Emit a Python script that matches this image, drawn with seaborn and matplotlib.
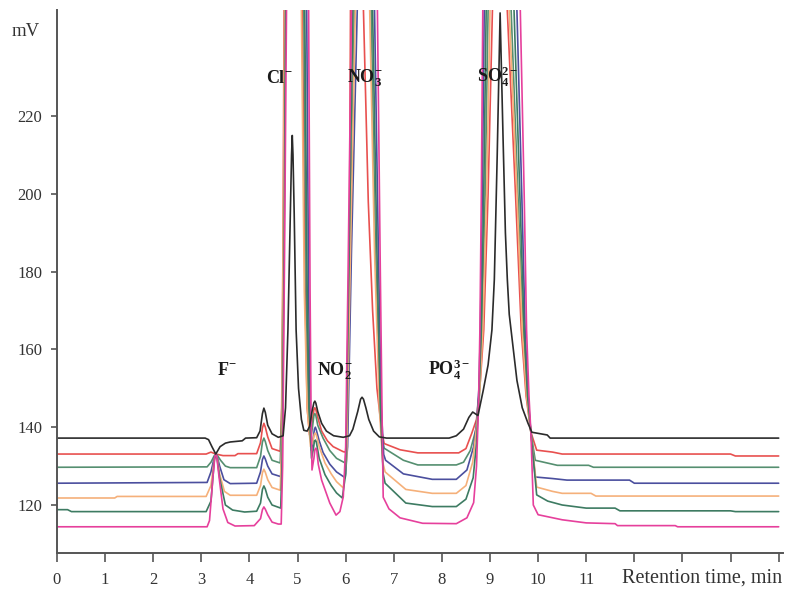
import matplotlib
matplotlib.use("Agg")
import matplotlib.pyplot as plt
import seaborn as sns
import pandas as pd

# ---------------- data ----------------
# time (min) / signal (mV) for each of the seven overlaid runs
black_t = [0, 3.08, 3.15, 3.22, 3.3, 3.39, 3.5, 3.6, 3.85, 3.92, 4.15, 4.22, 4.27, 4.3, 4.33, 4.38,
           4.47, 4.6, 4.7, 4.75, 4.8, 4.85, 4.875, 4.89, 4.905, 4.93, 4.97, 5.02, 5.08, 5.13, 5.2,
           5.25, 5.3, 5.34, 5.36, 5.38, 5.42, 5.5, 5.6, 5.75, 5.95, 6.08, 6.15, 6.25, 6.31, 6.34,
           6.37, 6.42, 6.48, 6.58, 6.7, 6.85, 8.15, 8.3, 8.45, 8.56, 8.64, 8.75, 8.86, 8.96, 9.04,
           9.09, 9.15, 9.21, 9.27, 9.32, 9.36, 9.4, 9.48, 9.56, 9.67, 9.79, 9.87, 10.19, 10.25, 15]
black_v = [137.2, 137.2, 136.8, 135.0, 133.1, 135.0, 135.9, 136.2, 136.5, 137.2, 137.3, 139.0, 143.5,
           144.9, 143.8, 140.5, 138.3, 137.4, 137.8, 145, 165, 195, 210, 215, 210, 195, 165, 150,
           142, 139.2, 139.0, 140.2, 144, 146.3, 146.7, 146.2, 144, 141, 139, 137.8, 137.4, 137.8,
           139.5, 144, 147.2, 147.7, 147.2, 145, 142, 139, 137.5, 137.2, 137.2, 137.8, 139.5, 142.5,
           143.9, 143.0, 149.5, 156, 165, 178, 210, 246.5, 215, 190, 178, 169, 160.5, 152, 145,
           141, 138.7, 138.0, 137.2, 137.2]

red_t = [0, 3.1, 3.2, 3.3, 3.45, 3.7, 3.76, 4.15, 4.23, 4.27, 4.3, 4.33, 4.38, 4.47, 4.64, 4.67,
         4.7, 4.72, 4.91, 5.1, 5.15, 5.2, 5.25, 5.3, 5.34, 5.36, 5.38, 5.42, 5.5, 5.62, 5.74, 5.95,
         6.0, 6.04, 6.08, 6.1, 6.24, 6.37, 6.47, 6.56, 6.65, 6.75, 6.8, 7.13, 7.5, 8.35, 8.5, 8.62,
         8.72, 8.8, 8.87, 8.96, 9.05, 9.2, 9.36, 9.53, 9.65, 9.75, 9.85, 9.97, 10.3, 10.5, 14.0,
         14.1, 15]
red_v = [133.1, 133.1, 133.6, 133.1, 132.7, 132.7, 133.2, 133.2, 136, 139.8, 141, 140, 137.5, 134.5,
         133.8, 145, 190, 247, 340, 247, 180, 145, 138, 141, 144.5, 145, 144.5, 142.5, 139, 136.5,
         135, 133.7, 133.6, 145, 190, 247, 330, 247, 198, 170, 150, 139, 135.8, 134.2, 133.4,
         133.4, 134.5, 138.4, 142, 152, 165, 200, 247, 320, 247, 200, 165, 148, 138.7, 134.1,
         133.6, 133.1, 133.1, 132.6, 132.6]

green_t = [0, 3.12, 3.2, 3.27, 3.3, 3.33, 3.4, 3.5, 3.6, 4.15, 4.23, 4.27, 4.3, 4.33, 4.38, 4.47,
           4.64, 4.67, 4.71, 4.74, 4.93, 5.13, 5.18, 5.22, 5.27, 5.31, 5.34, 5.36, 5.38, 5.42, 5.53,
           5.67, 5.81, 5.99, 6.03, 6.1, 6.18, 6.36, 6.53, 6.62, 6.7, 6.76, 6.8, 7.2, 7.5, 8.3, 8.45,
           8.59, 8.72, 8.78, 8.83, 8.9, 8.96, 9.2, 9.44, 9.58, 9.69, 9.77, 9.85, 9.94, 10.4, 11.05,
           11.15, 15]
green_v = [129.7, 129.8, 131, 132.7, 133.1, 132.8, 131.5, 130, 129.6, 129.6, 132.5, 136.2, 137.2,
           136.3, 134, 131.5, 130.8, 142, 190, 247, 340, 247, 175, 148, 137, 140, 143, 143.5, 143,
           140.5, 137.2, 134, 132, 130.8, 137, 185, 247, 330, 247, 185, 150, 137, 134.6, 131.5,
           130.3, 130.3, 131, 134, 140, 148, 165, 200, 247, 320, 247, 200, 165, 148, 138.7, 131.5,
           130.2, 130.2, 129.7, 129.7]

blue_t = [0, 3.12, 3.2, 3.27, 3.3, 3.33, 3.38, 3.47, 3.6, 4.15, 4.23, 4.27, 4.3, 4.33, 4.38, 4.47,
          4.65, 4.68, 4.72, 4.75, 4.97, 5.19, 5.23, 5.26, 5.29, 5.33, 5.35, 5.37, 5.39, 5.45, 5.53,
          5.67, 5.81, 5.99, 6.04, 6.12, 6.24, 6.42, 6.6, 6.68, 6.74, 6.79, 6.83, 7.2, 7.8, 8.3,
          8.52, 8.66, 8.72, 8.77, 8.8, 8.84, 8.88, 9.22, 9.56, 9.66, 9.73, 9.79, 9.85, 9.94, 10.3,
          10.6, 11.9, 12.0, 15]
blue_v = [125.6, 125.8, 128.5, 132.3, 133.1, 132.5, 130, 126.5, 125.5, 125.6, 128.5, 131.7, 132.6,
          131.8, 130, 128, 127.3, 140, 190, 247, 340, 247, 175, 145, 134, 137.5, 139.5, 140, 139.3,
          136.5, 133.5, 130.5, 128.5, 127, 135, 185, 247, 330, 247, 185, 145, 133, 131.5, 128,
          126.6, 126.6, 129, 135, 141, 150, 165, 200, 247, 320, 247, 200, 165, 148, 138.7, 127.2,
          126.8, 126.4, 126.4, 125.6, 125.6]

orange_t = [0, 1.2, 1.25, 3.1, 3.2, 3.27, 3.3, 3.33, 3.38, 3.48, 3.6, 4.15, 4.23, 4.27, 4.3, 4.33,
            4.38, 4.47, 4.64, 4.67, 4.7, 4.73, 4.9, 5.08, 5.14, 5.2, 5.27, 5.31, 5.35, 5.37, 5.39,
            5.45, 5.57, 5.7, 5.81, 5.95, 6.02, 6.1, 6.2, 6.35, 6.5, 6.6, 6.7, 6.77, 6.82, 7.25, 7.8,
            8.3, 8.5, 8.64, 8.72, 8.79, 8.85, 8.93, 9.0, 9.2, 9.4, 9.56, 9.67, 9.76, 9.85, 9.97,
            10.3, 10.5, 11.1, 11.2, 15]
orange_v = [121.8, 121.8, 122.2, 122.2, 125, 131.8, 133.1, 132.2, 128, 123.5, 122.5, 122.5, 125,
            128.3, 129.2, 128.4, 126.5, 124.5, 123.8, 136, 185, 247, 340, 247, 175, 145, 135, 136,
            138.2, 138.5, 138, 135, 130.8, 128, 126, 124.4, 132, 185, 247, 330, 247, 185, 145, 131,
            128.5, 124, 123, 123, 125, 131, 140, 150, 165, 200, 247, 320, 247, 200, 165, 148,
            138.7, 124.6, 123.5, 123, 123, 122.3, 122.3]

dkgreen_t = [0, 0.22, 0.3, 3.1, 3.2, 3.27, 3.3, 3.33, 3.38, 3.5, 3.65, 3.9, 4.15, 4.23, 4.27, 4.3,
             4.33, 4.38, 4.47, 4.65, 4.68, 4.72, 4.75, 4.95, 5.15, 5.2, 5.24, 5.29, 5.33, 5.35,
             5.37, 5.39, 5.45, 5.57, 5.7, 5.81, 5.93, 6.0, 6.06, 6.15, 6.35, 6.56, 6.65, 6.72, 6.78,
             6.82, 7.25, 7.8, 8.3, 8.5, 8.65, 8.72, 8.77, 8.82, 8.87, 8.92, 9.2, 9.5, 9.62, 9.71,
             9.78, 9.85, 9.97, 10.2, 10.5, 11.0, 11.6, 11.7, 14.0, 14.1, 15]
dkgreen_v = [118.8, 118.8, 118.3, 118.3, 121, 131.5, 133.1, 131.8, 127, 120, 118.7, 118.2, 118.4,
             120.5, 124, 124.9, 124.1, 122, 120, 119.2, 132, 185, 247, 340, 247, 175, 145, 132,
             134.5, 136.4, 136.7, 136.2, 132, 127.8, 125, 123.1, 121.8, 128, 175, 247, 330, 247,
             185, 145, 128, 125.6, 120.5, 119.6, 119.6, 121.5, 127, 136, 148, 165, 200, 247, 320,
             247, 200, 165, 148, 138.7, 122.6, 121, 120, 119.2, 119.2, 118.5, 118.5, 118.3, 118.3]

magenta_t = [0, 3.12, 3.17, 3.24, 3.28, 3.3, 3.32, 3.37, 3.45, 3.55, 3.7, 4.1, 4.23, 4.27, 4.3,
             4.33, 4.38, 4.47, 4.6, 4.66, 4.69, 4.73, 4.77, 5.0, 5.23, 5.26, 5.28, 5.3, 5.34, 5.36,
             5.38, 5.4, 5.43, 5.5, 5.67, 5.8, 5.88, 5.95, 6.0, 6.05, 6.12, 6.39, 6.66, 6.72, 6.76,
             6.78, 6.9, 7.13, 7.6, 8.3, 8.52, 8.66, 8.72, 8.76, 8.79, 8.82, 8.85, 9.24, 9.63, 9.71,
             9.76, 9.81, 9.85, 9.9, 10.0, 10.5, 11.0, 11.6, 11.65, 12.85, 12.9, 15]
magenta_v = [114.4, 114.4, 116, 127, 132.3, 133.1, 132.5, 127, 119, 115.5, 114.6, 114.7, 116.5,
             118.8, 119.5, 118.9, 117.5, 115.6, 115.1, 115.1, 130, 185, 247, 340, 247, 175, 145,
             129, 132, 134.2, 134.6, 134, 130.5, 126.4, 120.5, 117.4, 118.3, 122.1, 135, 180, 247,
             330, 247, 180, 140, 122, 119, 116.7, 115.3, 115.2, 116.7, 120.6, 130, 145, 165, 200,
             247, 320, 247, 200, 165, 148, 138.7, 120, 117.5, 116.2, 115.4, 115.2, 114.7, 114.7,
             114.4, 114.4]

runs = ["red", "green", "blue", "orange", "dkgreen", "magenta", "black"]
run_colors = {"red": "#e8504f", "green": "#558f70", "blue": "#4b4f9e", "orange": "#f5b07a",
              "dkgreen": "#3d7b62", "magenta": "#e6409c", "black": "#2b2b2b"}

ion_labels = [r"$\mathbf{F^{-}}$", r"$\mathbf{Cl^{-}}$", r"$\mathbf{NO_2^{-}}$",
              r"$\mathbf{NO_3^{-}}$", r"$\mathbf{PO_4^{3-}}$", r"$\mathbf{SO_4^{2-}}$"]
ion_x = [3.53, 4.62, 5.78, 6.40, 8.15, 9.15]
ion_y = [153.4, 228.5, 153.4, 228.5, 153.4, 228.5]

y_ticks = [120, 140, 160, 180, 200, 220]
x_ticks = list(range(0, 16))
x_tick_labels = [str(i) if i <= 11 else "" for i in x_ticks]

# ---------------- build frame ----------------
series = {"black": (black_t, black_v), "red": (red_t, red_v), "green": (green_t, green_v),
          "blue": (blue_t, blue_v), "orange": (orange_t, orange_v),
          "dkgreen": (dkgreen_t, dkgreen_v), "magenta": (magenta_t, magenta_v)}
frames = []
for name in runs:
    t, v = series[name]
    frames.append(pd.DataFrame({"time": t, "mV": v, "run": name}))
df = pd.concat(frames, ignore_index=True)

# ---------------- style ----------------
sns.set_style("ticks")
plt.rcParams["font.family"] = ["Liberation Serif", "DejaVu Serif"]
plt.rcParams["mathtext.fontset"] = "custom"
plt.rcParams["mathtext.rm"] = "Liberation Serif"
plt.rcParams["mathtext.bf"] = "Liberation Serif:bold"
plt.rcParams["mathtext.it"] = "Liberation Serif:italic"

fig = plt.figure(figsize=(7.88, 5.90), dpi=100)
ax = fig.add_axes([57 / 788, 37 / 590, 726 / 788, 543 / 590])

sns.lineplot(data=df, x="time", y="mV", hue="run", hue_order=runs, palette=run_colors,
             estimator=None, sort=False, units="run", linewidth=1.2, legend=False, ax=ax)

ax.set_xlim(0, 15.09)
ax.set_ylim(107.66, 247.25)
ax.set_xticks(x_ticks)
ax.set_xticklabels(x_tick_labels)
ax.set_yticks(y_ticks)
ax.set_xlabel("")
ax.set_ylabel("")

for side in ["top", "right"]:
    ax.spines[side].set_visible(False)
for side in ["left", "bottom"]:
    ax.spines[side].set_color("#555555")
    ax.spines[side].set_linewidth(1.4)
ax.tick_params(axis="x", direction="out", length=6.5, width=1.2, color="#555555",
               labelsize=12, labelcolor="#333333", pad=7)
ax.tick_params(axis="y", direction="out", length=4.5, width=1.2, color="#555555",
               labelsize=12, labelcolor="#333333", pad=6)

for lab, x, y in zip(ion_labels, ion_x, ion_y):
    ax.text(x, y, lab, ha="center", va="baseline", fontsize=13, color="#1a1a1a")

fig.text(26 / 788, 1 - 31 / 590, "mV", ha="center", va="center", fontsize=13.5, color="#333333")
fig.text(782 / 788, 1 - 583 / 590, "Retention time, min", ha="right", va="baseline",
         fontsize=14.5, color="#333333")

fig.savefig("out.png", dpi=100)
